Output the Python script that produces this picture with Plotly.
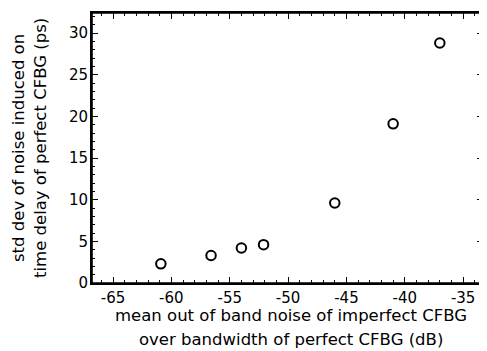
import plotly.graph_objects as go

noise_db = [-60.9, -56.6, -54.0, -52.1, -46.0, -41.0, -37.0]
std_dev_ps = [2.3, 3.3, 4.2, 4.6, 9.6, 19.1, 28.8]
x_ticks = [-65, -60, -55, -50, -45, -40, -35]
y_ticks = [0, 5, 10, 15, 20, 25, 30]
x_title_lines = ["mean out of band noise of imperfect CFBG", "over bandwidth of perfect CFBG (dB)"]
y_title_lines = ["std dev of noise induced on", "time delay of perfect CFBG (ps)"]

font_family = "DejaVu Sans, Liberation Sans, Arial, sans-serif"
title_size = 16.5

fig = go.Figure()
fig.add_trace(go.Scatter(
    x=noise_db, y=std_dev_ps, mode="markers",
    marker=dict(symbol="circle-open", size=9.5, color="black", line=dict(width=2, color="black")),
    showlegend=False,
))

axis_common = dict(
    showgrid=False, zeroline=False, showline=True, linecolor="black", linewidth=1.8,
    mirror="allticks", ticks="inside", ticklen=6, tickwidth=1, tickcolor="black",
    tickfont=dict(family=font_family, size=15, color="black"),
)

fig.update_xaxes(
    range=[-66.8, -33.3], tickvals=x_ticks, ticktext=[str(v) for v in x_ticks],
    minor=dict(ticks="inside", ticklen=3, tickcolor="black", dtick=1, tick0=-65),
    ticklabelstandoff=0,
    **axis_common,
)
fig.update_yaxes(
    range=[0, 32.4], tickvals=y_ticks, ticktext=[str(v) for v in y_ticks],
    minor=dict(ticks="inside", ticklen=3, tickcolor="black", dtick=1, tick0=0),
    ticklabelstandoff=-1,
    **axis_common,
)

fig.add_shape(type="rect", xref="paper", yref="paper", x0=0, y0=0, x1=1, y1=1,
              line=dict(color="black", width=1.6), layer="above")

for text, shift in zip(x_title_lines, [-32, -56]):
    fig.add_annotation(text=text, xref="paper", yref="paper", x=0.51, y=0,
                       yshift=shift, xanchor="center", yanchor="middle", showarrow=False,
                       font=dict(family=font_family, size=title_size, color="black"))
for text, shift in zip(y_title_lines, [-74, -52]):
    fig.add_annotation(text=text, xref="paper", yref="paper", x=0, y=0.5,
                       xshift=shift, xanchor="center", yanchor="middle", showarrow=False,
                       textangle=-90,
                       font=dict(family=font_family, size=title_size, color="black"))

# page body has an 8px default margin; margins compensate so the plot box lands at the reference position
fig.update_layout(
    width=479, height=343,
    margin=dict(l=84, r=4, t=5, b=68, autoexpand=False),
    paper_bgcolor="white", plot_bgcolor="white",
    font=dict(family=font_family, color="black"),
)

fig.write_html("out.html")
